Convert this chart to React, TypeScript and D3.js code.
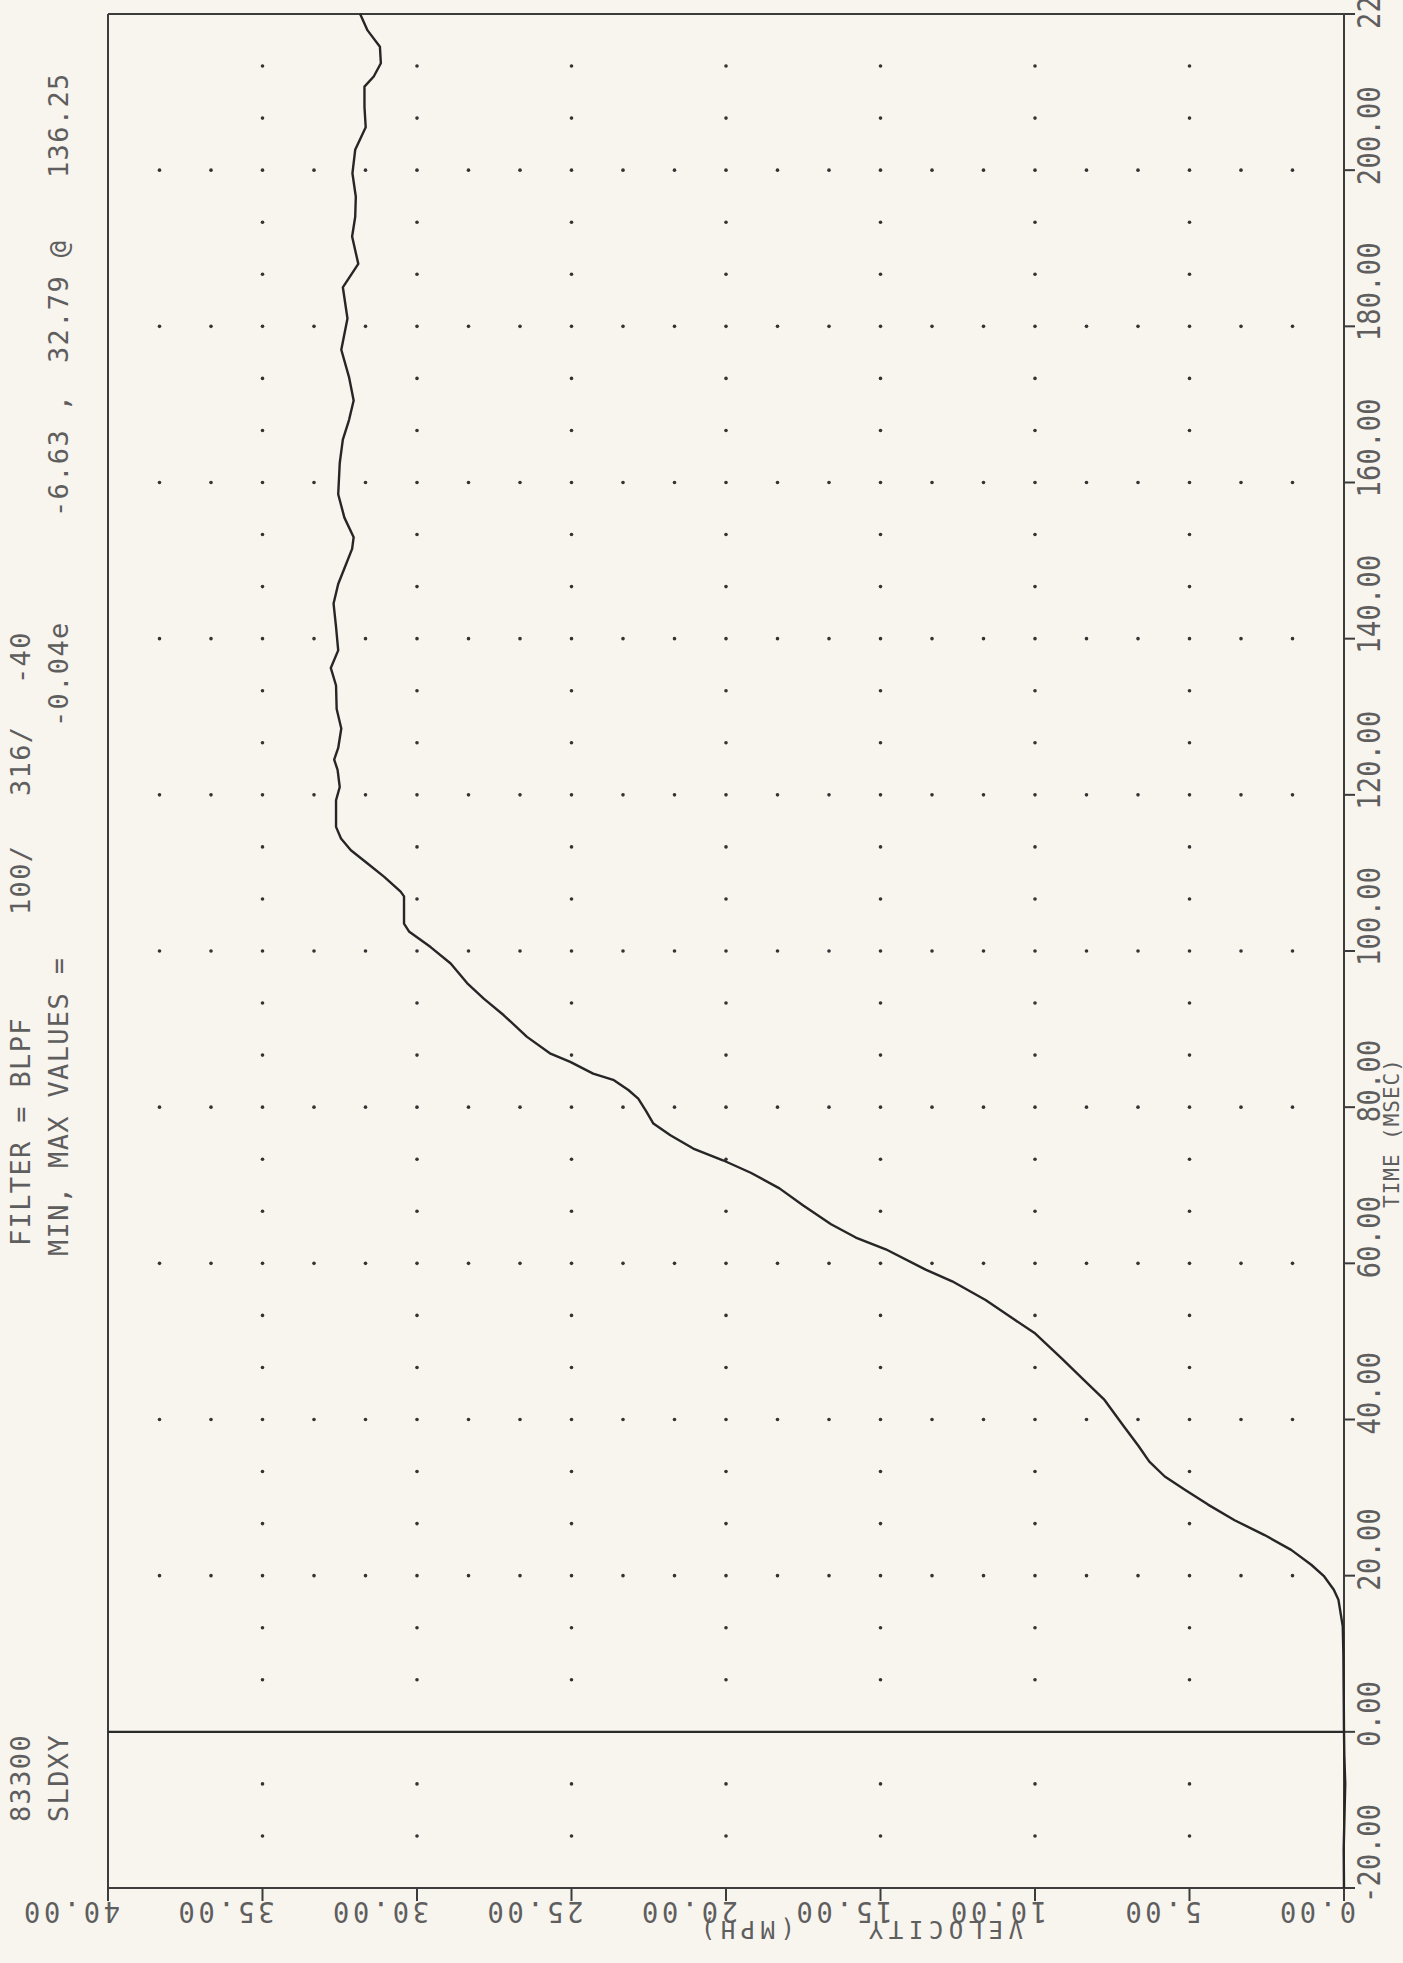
import { useEffect, useRef } from 'react';
import * as d3 from 'd3';

// sled velocity trace (time in msec, velocity in mph)
const TIME_MS = [
  -20, -15, -10, -6.63, -3, 0, 5, 10, 13.5, 16.9, 18.2, 19.9, 21.4, 23.3, 25.2, 27.1, 29.1, 31.0,
  32.7, 34.6, 36.6, 39.2, 42.5, 45.1, 47.8, 51.0, 53.0, 55.3, 57.7, 59.2, 61.8, 63.3, 65.0, 67.4,
  69.6, 71.6, 73.2, 74.7, 76.4, 77.9, 79.6, 81.1, 82.2, 83.5, 84.3, 85.8, 86.9, 89.0, 91.8, 93.9,
  95.9, 98.4, 100.5, 102.5, 103.5, 107.0, 107.6, 109.5, 111.2, 112.9, 114.4, 115.9, 119.3, 121.0,
  123.2, 124.5, 126.0, 128.5, 131, 134, 136.25, 138.5, 141.5, 144.5, 147, 149.5, 151.5, 153, 155.5,
  158.5, 162.5, 165.5, 168, 170.5, 173.5, 177, 181, 185, 188, 191.5, 194, 196.6, 199.6, 202.6,
  205.5, 208.1, 210.7, 212, 213.7, 215.8, 217.9, 220,
];
const VELOCITY_MPH = [
  0, 0.01, -0.02, -0.04, -0.01, 0, 0.01, 0.02, 0.04, 0.18, 0.33, 0.64, 1.06, 1.71, 2.57, 3.54, 4.4, 5.15,
  5.8, 6.3, 6.65, 7.14, 7.75, 8.43, 9.13, 9.99, 10.74, 11.6, 12.68, 13.54, 14.83, 15.8, 16.6, 17.5,
  18.27, 19.2, 20.1, 21.06, 21.8, 22.35, 22.6, 22.84, 23.16, 23.65, 24.3, 25.04, 25.7, 26.44, 27.2, 27.84,
  28.38, 28.91, 29.56, 30.26, 30.42, 30.42, 30.53, 31.06, 31.6, 32.14, 32.46, 32.62, 32.62, 32.5,
  32.57, 32.68, 32.55, 32.45, 32.6, 32.62, 32.79, 32.55, 32.62, 32.7, 32.55, 32.3, 32.1, 32.05, 32.35,
  32.55, 32.5, 32.4, 32.2, 32.05, 32.2, 32.45, 32.25, 32.4, 31.9, 32.1, 32.0, 31.98, 32.09, 32.0,
  31.66, 31.7, 31.7, 31.4, 31.17, 31.2, 31.6, 31.84,
];

const TIME_TICKS = [-20, 0, 20, 40, 60, 80, 100, 120, 140, 160, 180, 200, 220];
const VEL_TICKS = [0, 5, 10, 15, 20, 25, 30, 35, 40];

// header lines (rotated), each token with the page y where it starts
const HEADER_COL1 = [
  { text: '83300', at: 1822 },
  { text: 'FILTER = BLPF', at: 1246 },
  { text: '100/', at: 915 },
  { text: '316/', at: 796 },
  { text: '-40', at: 684 },
];
const HEADER_COL2 = [
  { text: 'SLDXY', at: 1822 },
  { text: 'MIN, MAX VALUES =', at: 1256 },
  { text: '-0.04e', at: 727 },
  { text: '-6.63 ,', at: 517 },
  { text: '32.79 @', at: 363 },
  { text: '136.25', at: 178 },
];

export default function App() {
  const svgRef = useRef<SVGSVGElement>(null);

  useEffect(() => {
    const W = 1403, H = 1963;
    const svg = d3.select(svgRef.current);
    svg.selectAll('*').remove();
    svg.attr('width', W).attr('height', H).attr('viewBox', `0 0 ${W} ${H}`);

    svg.append('rect').attr('width', W).attr('height', H).attr('fill', '#f8f4ee');

    // chart is printed sideways: velocity runs right->left, time bottom->top
    const x = d3.scaleLinear().domain([0, 40]).range([1344, 108]);
    const y = d3.scaleLinear().domain([-20, 220]).range([1888, 14]);

    const ink = '#333';
    const textInk = '#5e5e5e';
    const mono = "'DejaVu Sans Mono', 'Liberation Mono', monospace";

    // dotted grid: dots along each gridline at thirds of a division
    const g = svg.append('g');
    const dots: [number, number][] = [];
    VEL_TICKS.slice(1, -1).forEach(v => {
      d3.range(1, 36).forEach(k => {
        const t = -20 + k * 20 / 3;
        if (Math.abs(t - Math.round(t / 20) * 20) > 0.01) dots.push([v, t]);
      });
    });
    TIME_TICKS.slice(1, -1).forEach(t => {
      if (t === 0) return;
      d3.range(1, 24).forEach(k => dots.push([k * 5 / 3, t]));
    });
    g.selectAll('circle').data(dots).join('circle')
      .attr('cx', d => x(d[0])).attr('cy', d => y(d[1])).attr('r', 1.8).attr('fill', ink);

    // frame
    const frame = svg.append('g').attr('stroke', '#3c3c3c').attr('stroke-width', 2).attr('fill', 'none');
    frame.append('line').attr('x1', x(40)).attr('x2', x(0)).attr('y1', y(220)).attr('y2', y(220));
    frame.append('line').attr('x1', x(40)).attr('x2', x(40)).attr('y1', y(220)).attr('y2', y(-20));
    frame.append('line').attr('x1', x(40)).attr('x2', x(0)).attr('y1', y(-20)).attr('y2', y(-20));
    frame.append('line').attr('x1', x(0)).attr('x2', x(0)).attr('y1', y(220)).attr('y2', y(-20));
    // time zero line
    frame.append('line').attr('x1', x(40)).attr('x2', x(0)).attr('y1', y(0)).attr('y2', y(0))
      .attr('stroke', '#2a2a2a').attr('stroke-width', 2.2);

    // velocity ticks + labels (upside down)
    VEL_TICKS.forEach(v => {
      frame.append('line').attr('x1', x(v)).attr('x2', x(v)).attr('y1', y(-20)).attr('y2', y(-20) + 13);
      svg.append('text')
        .attr('transform', `translate(${x(v) + 12},${1902}) rotate(180) scale(1,1.08)`)
        .attr('font-family', mono).attr('font-size', 27).attr('letter-spacing', 3.7)
        .attr('fill', textInk)
        .text(v.toFixed(2));
    });
    [{ text: 'VELOCITY', at: 1023 }, { text: '(MPH)', at: 795 }].forEach(d => {
      svg.append('text')
        .attr('transform', `translate(${d.at},${1921}) rotate(180)`)
        .attr('font-family', mono).attr('font-size', 24).attr('letter-spacing', 5.5)
        .attr('fill', textInk).text(d.text);
    });

    // time ticks + labels (reading bottom to top)
    TIME_TICKS.forEach(t => {
      frame.append('line').attr('x1', x(0)).attr('x2', x(0) + 11).attr('y1', y(t)).attr('y2', y(t));
      svg.append('text')
        .attr('transform', `translate(${1380},${y(t) + 15}) rotate(-90) scale(1,1.2)`)
        .attr('font-family', mono).attr('font-size', 27).attr('letter-spacing', 0.3)
        .attr('fill', textInk).text(t.toFixed(2));
    });
    [{ text: 'TIME', at: 1208 }, { text: '(MSEC)', at: 1140 }].forEach(d => {
      svg.append('text')
        .attr('transform', `translate(${1399},${d.at}) rotate(-90)`)
        .attr('font-family', mono).attr('font-size', 21).attr('letter-spacing', 1)
        .attr('fill', textInk).text(d.text);
    });

    // header
    const header = (items: { text: string; at: number }[], bx: number) => {
      items.forEach(d => {
        svg.append('text')
          .attr('transform', `translate(${bx},${d.at}) rotate(-90)`)
          .attr('font-family', mono).attr('font-size', 27).attr('letter-spacing', 1.35)
          .attr('fill', textInk)
          .style('white-space', 'pre')
          .text(d.text);
      });
    };
    header(HEADER_COL1, 30);
    header(HEADER_COL2, 68);

    // the trace
    const pts = TIME_MS.map((t, i) => [VELOCITY_MPH[i], t] as [number, number]);
    const line = d3.line<[number, number]>().x(d => x(d[0])).y(d => y(d[1]));
    svg.append('path').datum(pts).attr('d', line)
      .attr('fill', 'none').attr('stroke', '#262626').attr('stroke-width', 2.4)
      .attr('stroke-linejoin', 'round');
  }, []);

  return (
    <svg ref={svgRef} style={{ position: 'absolute', left: 0, top: 0, display: 'block' }} />
  );
}
